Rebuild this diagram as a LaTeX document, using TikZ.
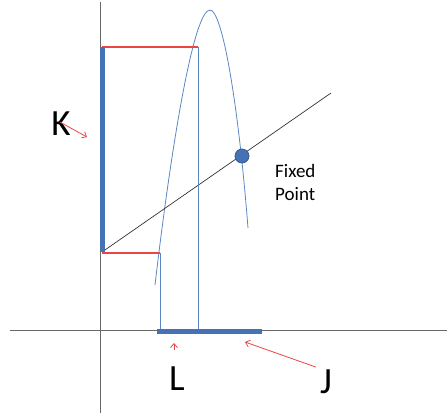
\documentclass[tikz,border=0pt]{standalone}
\usepackage{fontspec}
\setmainfont{Carlito}
\usetikzlibrary{arrows.meta}
\definecolor{barblue}{RGB}{68,114,180}
\definecolor{thinblue}{RGB}{90,135,195}
\definecolor{projred}{RGB}{235,70,70}
\definecolor{axisgray}{RGB}{105,105,105}
\begin{document}
\begin{tikzpicture}[x=1pt,y=-1pt]
        % Style definitions
        \tikzset{
            axis/.style={axisgray, line width=1pt},
            bar/.style={barblue, line width=5pt},
            guide/.style={thinblue, line width=0.8pt},
            projline/.style={draw=projred, line width=1.1pt},
            pointer/.style={projred, line width=0.8pt, -{Straight Barb[length=4pt,width=7pt]}},
            letter/.style={font=\fontsize{37}{40}\selectfont, inner sep=0pt, anchor=base}
        }
        \useasboundingbox (0,0) rectangle (447,416);

        % ==========================================
        % AXES
        % ==========================================
        \draw[axis] (100,2) -- (100,413);
        \draw[axis] (10,330) -- (447,330);

        % ==========================================
        % CURVE, LINE AND FIXED POINT
        % ==========================================
        \draw[guide] (155,285) .. controls (172,140) and (194,10) .. (210,10)
                               .. controls (222,10) and (238,100) .. (248,228);
        \draw[black!80, line width=0.7pt] (102,252) -- (331,93);
        \node[circle, fill=barblue, draw=barblue!80!black, line width=0.8pt, minimum size=14pt, inner sep=0pt] (fixed) at (242,156) {};
        \node[font=\fontsize{19}{23}\selectfont, align=left, anchor=north west, inner sep=0pt] (fixedlabel) at (275,164) {Fixed\\Point};

        % ==========================================
        % PROJECTIONS
        % ==========================================
        \draw[guide] (198,47) -- (198,330);
        \draw[guide] (160,253) -- (160,330);
        \draw[projline] (102,47) -- (198,47);
        \draw[projline] (102,253) -- (160,253);

        % Thick segments on the axes
        \draw[bar] (102.5,47) -- (102.5,252);
        \draw[bar] (157,331.5) -- (262,331.5);

        % ==========================================
        % LABELS
        % ==========================================
        \node[letter] (klabel) at (61,135) {K};
        \node[letter] (llabel) at (177,390) {L};
        \node[letter] (jlabel) at (326,393) {J};

        \coordinate (ktip) at (87,137);
        \coordinate (ltip) at (174,343);
        \coordinate (jtip) at (245,342);

        \draw[pointer] ([xshift=-1pt,yshift=1pt]klabel.center) -- (ktip);
        \draw[pointer] ([xshift=-3pt,yshift=16pt]llabel.north) -- (ltip);
        \draw[pointer] ([xshift=-4pt,yshift=2pt]jlabel.north west) -- (jtip);

    \end{tikzpicture}
\end{document}
